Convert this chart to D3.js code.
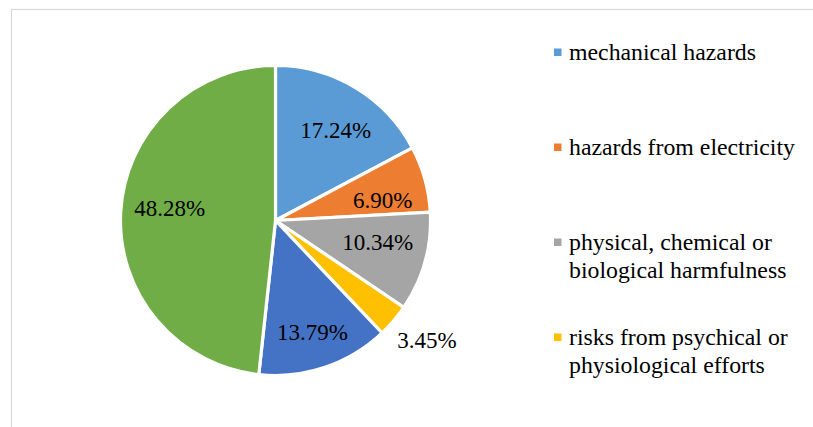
<!DOCTYPE html>
<html><head><meta charset="utf-8">
<script src="https://cdn.jsdelivr.net/npm/d3@7"></script>
<style>html,body{margin:0;padding:0;background:#fff;overflow:hidden}</style>
</head><body>
<svg id="chart" width="813" height="427"></svg>
<script>
const categories = ["mechanical hazards","hazards from electricity","physical, chemical or biological harmfulness","risks from psychical or physiological efforts","other hazards","no hazards"];
const values = [17.24, 6.90, 10.34, 3.45, 13.79, 48.28];
const labels = ["17.24%","6.90%","10.34%","3.45%","13.79%","48.28%"];
const colors = ["#5B9BD5","#ED7D31","#A5A5A5","#FFC000","#4472C4","#70AD47"];
const legendCount = 4;

const FONT = "'Liberation Serif', serif";
const svg = d3.select("#chart");
svg.append("rect").attr("x",11.5).attr("y",9.5).attr("width",900).attr("height",600)
  .attr("fill","#fff").attr("stroke","#d9d9d9").attr("stroke-width",1.2);

const cx = 275.5, cy = 220.5, R = 155;
const pie = d3.pie().sort(null).value(d=>d)(values);
const arc = d3.arc().innerRadius(0).outerRadius(R);
const g = svg.append("g").attr("transform",`translate(${cx},${cy})`);
g.selectAll("path").data(pie).join("path")
  .attr("d",arc).attr("fill",(d,i)=>colors[i])
  .attr("stroke","#fff").attr("stroke-width",3.2).attr("stroke-linejoin","miter");

// best-fit style label placement: centroid ring plus small layout nudges
const nudge = [[5.5,0],[5,7.5],[0,-7],[2,-7],[3,11],[0,-7]];
function labelPos(d){
  const a = (d.startAngle+d.endAngle)/2;
  const small = d.value < 5;
  const r = small ? 196 : 106;
  const n = nudge[d.index];
  return [Math.sin(a)*r + n[0], -Math.cos(a)*r + n[1]];
}
g.selectAll("text.lbl").data(pie).join("text").attr("class","lbl")
  .attr("x",d=>labelPos(d)[0]).attr("y",d=>labelPos(d)[1])
  .attr("text-anchor","middle").attr("dy","0.35em")
  .style("font-family",FONT).style("font-size","23px").attr("fill","#000")
  .text((d,i)=>labels[i]);

// legend
const lg = svg.append("g");
const maxW = 232;
const tmp = svg.append("text").style("font-family",FONT).style("font-size","23.8px");
function wrap(str){
  const words = str.split(" "); const lines=[]; let cur="";
  for(const w of words){
    const t = cur ? cur+" "+w : w;
    tmp.text(t);
    if(tmp.node().getComputedTextLength() > maxW && cur){ lines.push(cur); cur=w; }
    else cur=t;
  }
  if(cur) lines.push(cur);
  return lines;
}
const legY = d3.scaleLinear().domain([0,1]).range([60,155]);
for(let i=0;i<legendCount;i++){
  const base = legY(i);
  const lines = wrap(categories[i]);
  lg.append("rect").attr("x",554).attr("y",base-11.5).attr("width",7.5).attr("height",7.5).attr("fill",colors[i]);
  const t = lg.append("text").style("font-family",FONT).style("font-size","23.8px").attr("fill","#000");
  lines.forEach((l,j)=>t.append("tspan").attr("x",569).attr("y",base+j*27.7).text(l));
}
tmp.remove();
</script>
</body></html>
